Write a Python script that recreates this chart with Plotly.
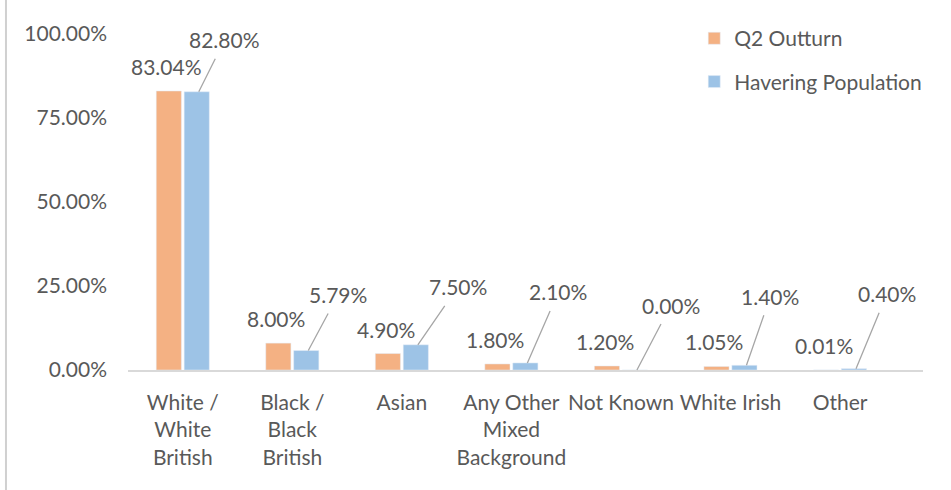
import plotly.graph_objects as go

categories = ["White / White British", "Black / Black British", "Asian",
              "Any Other Mixed Background", "Not Known", "White Irish", "Other"]
tick_labels = ["White /<br>White<br>British", "Black /<br>Black<br>British", "Asian",
               "Any Other<br>Mixed<br>Background", "Not Known", "White Irish", "Other"]
q2_outturn = [83.04, 8.00, 4.90, 1.80, 1.20, 1.05, 0.01]
havering_pop = [82.80, 5.79, 7.50, 2.10, 0.00, 1.40, 0.40]

# label offsets (pixels) for the Havering leader-line labels
pop_label_dx = [26, 30, 40, 31, 34, 24, 31]
pop_label_dy = [-52, -56, -58, -71, -65, -69, -75]

ORANGE = "#F4B183"
BLUE = "#9DC3E6"
TXT = "#595959"
FONT = "Lato"
FS = 21

fig = go.Figure()
fig.add_trace(go.Bar(x=categories, y=[v / 100 for v in q2_outturn], name="Q2 Outturn",
                     marker_color=ORANGE, legendgroup="a"))
fig.add_trace(go.Bar(x=categories, y=[v / 100 for v in havering_pop], name="Havering Population",
                     marker_color=BLUE, legendgroup="b"))

ann = []
for c, v in zip(categories, q2_outturn):
    ann.append(dict(x=c, y=v / 100, xref="x", yref="y", text=f"{v:.2f}%",
                    showarrow=False, xshift=-16, yshift=10, yanchor="bottom",
                    font=dict(family=FONT, size=FS, color=TXT)))
for c, v, dx, dy in zip(categories, havering_pop, pop_label_dx, pop_label_dy):
    ann.append(dict(x=c, y=v / 100, xref="x", yref="y", text=f"{v:.2f}%",
                    showarrow=True, arrowhead=0, arrowwidth=1.3, arrowcolor="#A6A6A6",
                    ax=dx, ay=dy, xshift=16, standoff=0, borderpad=6,
                    font=dict(family=FONT, size=FS, color=TXT)))

fig.update_layout(
    width=951, height=490,
    margin=dict(l=128, r=28, t=34, b=120, autoexpand=False),
    paper_bgcolor="white", plot_bgcolor="white",
    barmode="group", bargap=0.49, bargroupgap=0.1,
    font=dict(family=FONT, size=FS, color=TXT),
    showlegend=True,
    legend=dict(xref="container", yref="container", x=0.730, y=0.963,
                xanchor="left", yanchor="top",
                traceorder="grouped", tracegroupgap=13,
                font=dict(family=FONT, size=FS, color=TXT),
                bgcolor="rgba(0,0,0,0)"),
    annotations=ann,
    shapes=[dict(type="line", xref="paper", yref="paper",
                 x0=-0.1535, x1=-0.1535, y0=-0.36, y1=1.11,
                 line=dict(color="#D0D0D0", width=2))],
)
fig.update_xaxes(tickvals=categories, ticktext=tick_labels, showline=True,
                 linecolor="#D9D9D9", linewidth=1.5, ticks="", showgrid=False,
                 ticklabelstandoff=13, tickangle=0,
                 tickfont=dict(family=FONT, size=FS, color=TXT))
fig.update_yaxes(range=[0, 1], tickvals=[0, 0.25, 0.5, 0.75, 1.0], tickformat=".2%",
                 showgrid=False, zeroline=False, showline=False, ticks="",
                 ticklabelstandoff=20,
                 tickfont=dict(family=FONT, size=FS, color=TXT))

fig.write_html("out.html", config={"displayModeBar": False},
               post_script="document.body.style.margin='0';")
